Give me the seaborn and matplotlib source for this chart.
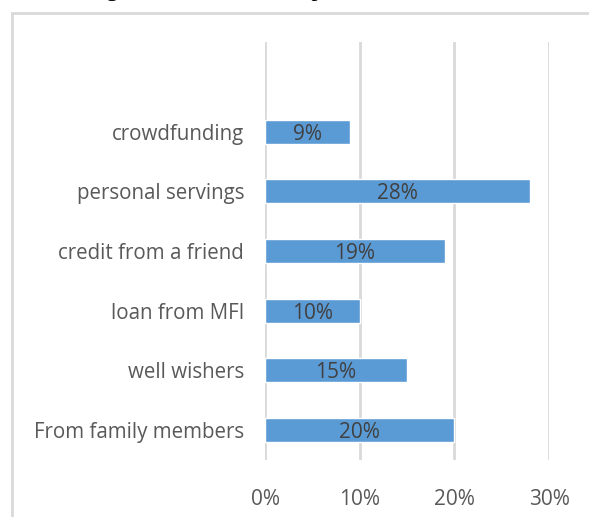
import matplotlib
matplotlib.use("Agg")
import matplotlib.pyplot as plt
from matplotlib.patches import Rectangle
from matplotlib.ticker import PercentFormatter
import seaborn as sns
import pandas as pd

categories = ["crowdfunding", "personal servings", "credit from a friend",
              "loan from MFI", "well wishers", "From family members"]
shares = [9, 28, 19, 10, 15, 20]
x_ticks = [0, 10, 20, 30]

df = pd.DataFrame({"source": categories, "share": shares})

sns.set_theme(style="white")
plt.rcParams["font.family"] = ["Open Sans", "DejaVu Sans"]

W, H = 589, 517
fig = plt.figure(figsize=(W / 100, H / 100), dpi=100)
fig.patch.set_facecolor("white")

# outer chart frame (partly cropped at the right and bottom)
fig.patches.append(Rectangle((12 / W, -0.1), 1.2, 1 - 13 / H + 0.1,
                             transform=fig.transFigure, fill=False,
                             edgecolor="#D9D9D9", linewidth=2))

# caption above the frame, clipped by the top of the image
fig.text(86 / W, 1 + 4 / H, "Figure 4: Sources of capital",
         family="Liberation Serif", fontsize=17.5, color="black",
         ha="left", va="baseline")

ax = fig.add_axes([265 / W, 1 - 460 / H, (549 - 265) / W, (460 - 42) / H])
sns.barplot(data=df, y="source", x="share", orient="h", color="#5B9BD5",
            width=0.4, saturation=1, ax=ax, zorder=3)

ax.set_xlim(0, 30)
ax.set_ylim(5.5, -1.5)
ax.set_xticks(x_ticks)
ax.xaxis.set_major_formatter(PercentFormatter(decimals=0))
ax.grid(axis="x", color="#D9D9D9", linewidth=2, zorder=0)
ax.set_axisbelow(True)
for s in ax.spines.values():
    s.set_visible(False)
ax.set_xlabel("")
ax.set_ylabel("")
ax.tick_params(axis="x", length=0, pad=21, labelsize=15, labelcolor="#595959")
ax.tick_params(axis="y", length=0, pad=15, labelsize=14.8, labelcolor="#595959")

for i, v in enumerate(shares):
    ax.text(v / 2, i, f"{v}%", ha="center", va="center_baseline",
            fontsize=15, color="#404040")

fig.savefig("out.png", dpi=100, facecolor="white")
